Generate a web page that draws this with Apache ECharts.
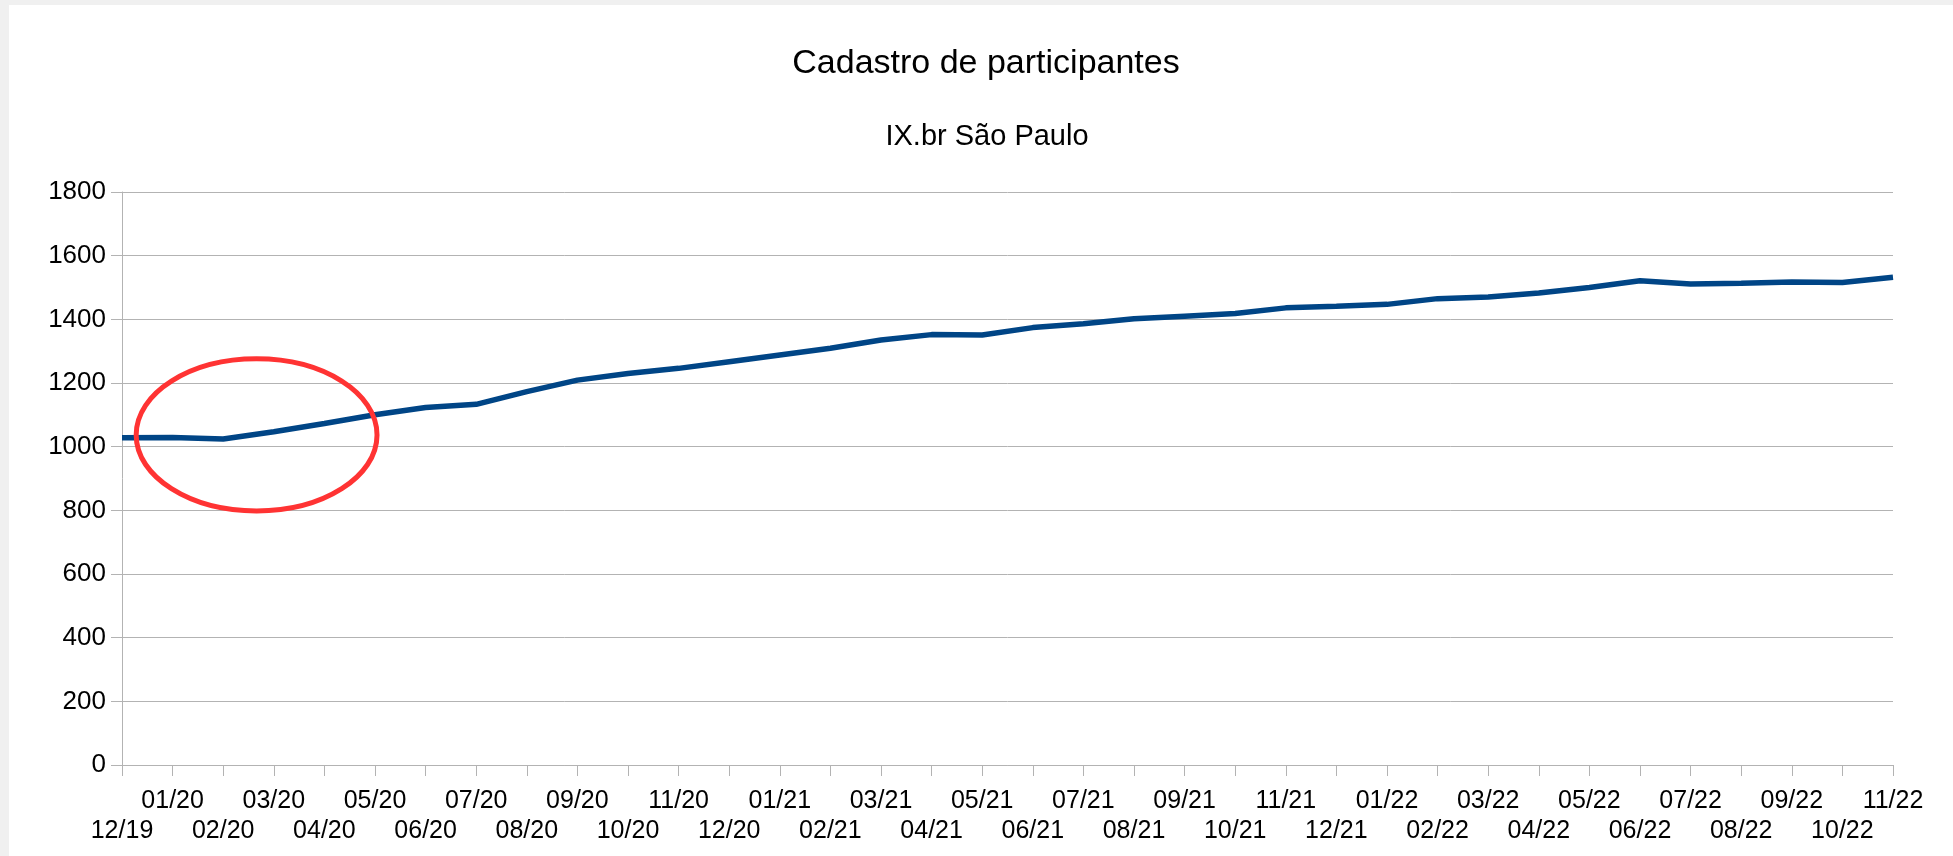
<!DOCTYPE html>
<html>
<head>
<meta charset="utf-8">
<title>Cadastro de participantes</title>
<script src="https://cdn.jsdelivr.net/npm/echarts@6/dist/echarts.min.js"></script>
<style>
    html, body { margin: 0; padding: 0; background: #f0f0f0; }
    #chart { position: absolute; left: 9px; top: 5px; width: 1944px; height: 851px; background: #ffffff; }
</style>
</head>
<body>
<div id="chart"></div>
<script>
// month labels, 12/19 .. 11/22
var months = ['12/19',
    '01/20', '02/20', '03/20', '04/20', '05/20', '06/20', '07/20', '08/20', '09/20', '10/20', '11/20', '12/20',
    '01/21', '02/21', '03/21', '04/21', '05/21', '06/21', '07/21', '08/21', '09/21', '10/21', '11/21', '12/21',
    '01/22', '02/22', '03/22', '04/22', '05/22', '06/22', '07/22', '08/22', '09/22', '10/22', '11/22'];

// participants registered (IX.br Sao Paulo)
var participants = [1028,
    1029, 1024, 1047, 1073, 1100, 1123, 1133, 1173, 1209, 1230, 1246, 1267,
    1288, 1309, 1335, 1352, 1351, 1374, 1386, 1402, 1410, 1418, 1436, 1441,
    1447, 1465, 1470, 1483, 1500, 1521, 1511, 1513, 1517, 1516, 1532];

var yTicks = [0, 200, 400, 600, 800, 1000, 1200, 1400, 1600, 1800];

// highlighted region (category index, value, radius in categories / value units)
var markCenter = [2.66, 1037];
var markRadius = [2.38, 239];

var font = '"Liberation Sans", Arial, sans-serif';
var gridColor = '#b3b3b3';

var chart = echarts.init(document.getElementById('chart'));

var option = {
    backgroundColor: '#ffffff',
    animation: false,
    textStyle: { fontFamily: font, color: '#000000' },
    title: [
        {
            text: 'Cadastro de participantes',
            left: 972,
            textAlign: 'center',
            top: 37,
            textStyle: { fontFamily: font, fontSize: 34, fontWeight: 'normal', color: '#000000' }
        },
        {
            text: 'IX.br São Paulo',
            left: 973,
            textAlign: 'center',
            top: 112,
            textStyle: { fontFamily: font, fontSize: 29, fontWeight: 'normal', color: '#000000' }
        }
    ],
    grid: { left: 113, right: 60, top: 187, bottom: 91, containLabel: false },
    xAxis: {
        type: 'category',
        data: months,
        boundaryGap: false,
        axisLine: { show: true, lineStyle: { color: gridColor, width: 1 } },
        axisTick: { show: true, alignWithLabel: true, interval: 0, length: 11, lineStyle: { color: gridColor } },
        axisLabel: {
            interval: 0,
            margin: 21,
            fontFamily: font,
            fontSize: 25,
            lineHeight: 30,
            color: '#000000',
            formatter: function (value, index) {
                return index % 2 === 1 ? value + '\n' : '\n' + value;
            }
        },
        splitLine: { show: false }
    },
    yAxis: {
        type: 'value',
        min: yTicks[0],
        max: yTicks[yTicks.length - 1],
        interval: yTicks[1] - yTicks[0],
        axisLine: { show: true, lineStyle: { color: gridColor, width: 1 } },
        axisTick: { show: true, length: 11, lineStyle: { color: gridColor } },
        axisLabel: {
            margin: 16,
            fontFamily: font,
            fontSize: 26,
            color: '#000000',
            formatter: function (value) {
                return String(value);
            }
        },
        splitLine: { show: true, lineStyle: { color: gridColor, width: 1 } }
    },
    series: [
        {
            name: 'participantes',
            type: 'line',
            data: participants,
            symbol: 'none',
            lineStyle: { color: '#004586', width: 5.5 },
            itemStyle: { color: '#004586' }
        }
    ]
};
chart.setOption(option);

// red ellipse around the start of the series
function drawMark() {
    var p0 = chart.convertToPixel({ gridIndex: 0 }, [0, 0]);
    var p1 = chart.convertToPixel({ gridIndex: 0 }, [1, 200]);
    var dx = p1[0] - p0[0];
    var dy = (p1[1] - p0[1]) / 200;
    chart.setOption({
        graphic: [{
            type: 'ellipse',
            shape: {
                cx: p0[0] + dx * markCenter[0],
                cy: p0[1] + dy * markCenter[1],
                rx: dx * markRadius[0],
                ry: -dy * markRadius[1]
            },
            style: { fill: 'none', stroke: '#ff3333', lineWidth: 5 },
            z: 100
        }]
    });
}
drawMark();
</script>
</body>
</html>
